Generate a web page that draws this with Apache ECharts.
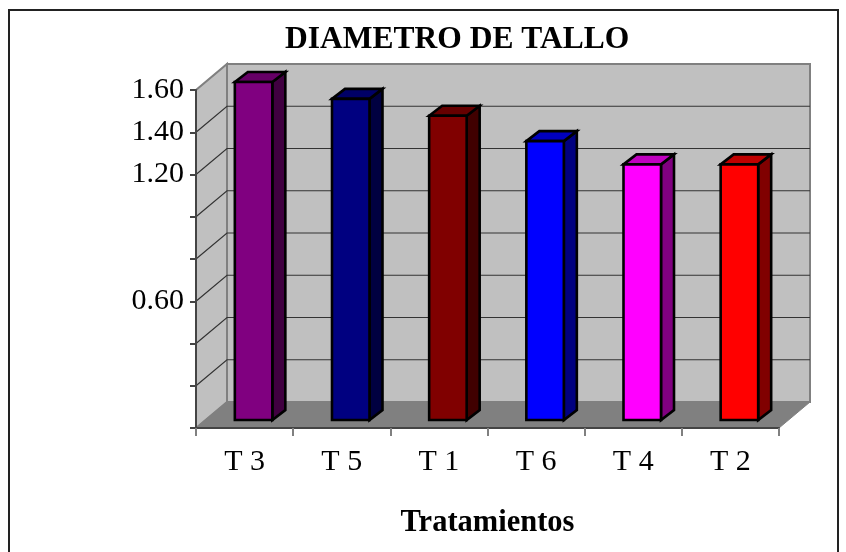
<!DOCTYPE html>
<html><head><meta charset="utf-8">
<style>html,body{margin:0;padding:0;background:#fff}#c{width:846px;height:552px}</style>
<script src="https://cdn.jsdelivr.net/npm/echarts@6/dist/echarts.min.js"></script>
</head><body><div id="c"></div>
<script>
const categories = ['T 3','T 5','T 1','T 6','T 4','T 2'];
const values = [1.60,1.52,1.44,1.32,1.21,1.21];
const frontColors = ['#800080','#000080','#800000','#0000ff','#ff00ff','#ff0000'];
const topColors = ['#660066','#000066','#660000','#0000c0','#c000c0','#c00000'];
const sideColors = ['#400040','#000040','#400000','#000080','#800080','#800000'];
const tickValues = [0,0.2,0.4,0.6,0.8,1.0,1.2,1.4,1.6];
const shownTicks = ['0.60','1.20','1.40','1.60'];
const title = 'DIAMETRO DE TALLO';
const xName = 'Tratamientos';

const DX = 31, DY = -26;       // depth of the 3D box
const BX = 9, BY = -8;         // bar front inset from the front plane
const BDX = 13, BDY = -10;     // bar depth
const FONT = '"Liberation Serif","Times New Roman",serif';

const chart = echarts.init(document.getElementById('c'), null, {renderer:'canvas'});

function wallItem(params, api){
  const a = api.coord([0,0]), b = api.coord([5,0]);
  const cw = api.size([1,0])[0];
  const x0 = a[0]-cw/2, x1 = b[0]+cw/2, y0 = a[1], y1 = api.coord([0,1.6])[1];
  const children = [];
  const wall = '#c0c0c0', edge = '#808080';
  children.push({type:'polygon',shape:{points:[[x0,y0],[x0+DX,y0+DY],[x0+DX,y1+DY],[x0,y1]]},style:{fill:wall,stroke:edge,lineWidth:2}});
  children.push({type:'polygon',shape:{points:[[x0+DX,y0+DY],[x1+DX,y0+DY],[x1+DX,y1+DY],[x0+DX,y1+DY]]},style:{fill:wall,stroke:edge,lineWidth:2}});
  tickValues.slice(1,-1).forEach(v=>{
    const y = api.coord([0,v])[1];
    children.push({type:'polyline',shape:{points:[[x0,y],[x0+DX,y+DY],[x1+DX,y+DY]]},style:{fill:null,stroke:'#333',lineWidth:1.2}});
  });
  children.push({type:'polygon',shape:{points:[[x0,y0],[x0+DX,y0+DY],[x1+DX,y0+DY],[x1,y0]]},style:{fill:'#808080',stroke:'#808080',lineWidth:1}});
  return {type:'group',children};
}

function barItem(params, api){
  const i = params.dataIndex;
  const p = api.coord([api.value(0),api.value(1)]);
  const base = api.coord([api.value(0),0]);
  const w = 37.5;
  const l = p[0]-w/2+BX, r = l+w, t = p[1]+BY, b = base[1]+BY;
  const stroke = {stroke:'#000',lineWidth:2.6,lineJoin:'miter'};
  return {type:'group',children:[
    {type:'polygon',shape:{points:[[r,t],[r+BDX,t+BDY],[r+BDX,b+BDY],[r,b]]},style:Object.assign({fill:sideColors[i]},stroke)},
    {type:'polygon',shape:{points:[[l,t],[l+BDX,t+BDY],[r+BDX,t+BDY],[r,t]]},style:Object.assign({fill:topColors[i]},stroke)},
    {type:'rect',shape:{x:l,y:t,width:w,height:b-t},style:Object.assign({fill:frontColors[i]},stroke)}
  ]};
}

chart.setOption({
  animation:false,
  backgroundColor:'#fff',
  title:{text:title,left:280,top:19,textStyle:{fontFamily:FONT,fontWeight:'bold',fontSize:31.5,color:'#000'}},
  grid:{left:196,top:90,width:583,height:338,containLabel:false},
  xAxis:{type:'category',data:categories,z:5,
    name:xName,nameLocation:'middle',nameGap:80,nameTextStyle:{fontFamily:FONT,fontWeight:'bold',fontSize:30.5,color:'#000'},
    axisLine:{show:true,lineStyle:{color:'#444',width:2}},
    axisTick:{show:true,alignWithLabel:false,length:8,lineStyle:{color:'#808080',width:2}},
    axisLabel:{fontFamily:FONT,fontSize:30,color:'#000',margin:19},splitLine:{show:false}},
  yAxis:{type:'value',min:0,max:1.6,interval:0.2,z:5,
    axisLine:{show:true,lineStyle:{color:'#444',width:2}},
    axisTick:{show:true,length:6,lineStyle:{color:'#444',width:2}},
    axisLabel:{fontFamily:FONT,fontSize:30,color:'#000',margin:12,padding:[7,0,0,0],showMinLabel:true,showMaxLabel:true,
      formatter:v=>{const s=v.toFixed(2);return shownTicks.includes(s)?s:'';}},
    splitLine:{show:false}},
  series:[
    {type:'custom',z:1,clip:false,silent:true,coordinateSystem:'cartesian2d',renderItem:wallItem,data:[[0,0]],encode:{x:0,y:1}},
    {type:'custom',z:3,clip:false,coordinateSystem:'cartesian2d',renderItem:barItem,data:values.map((v,i)=>[i,v]),encode:{x:0,y:1}}
  ],
  graphic:[{type:'rect',z:10,silent:true,shape:{x:9,y:10,width:829,height:560},style:{fill:null,stroke:'#222',lineWidth:2}}]
});
</script></body></html>
